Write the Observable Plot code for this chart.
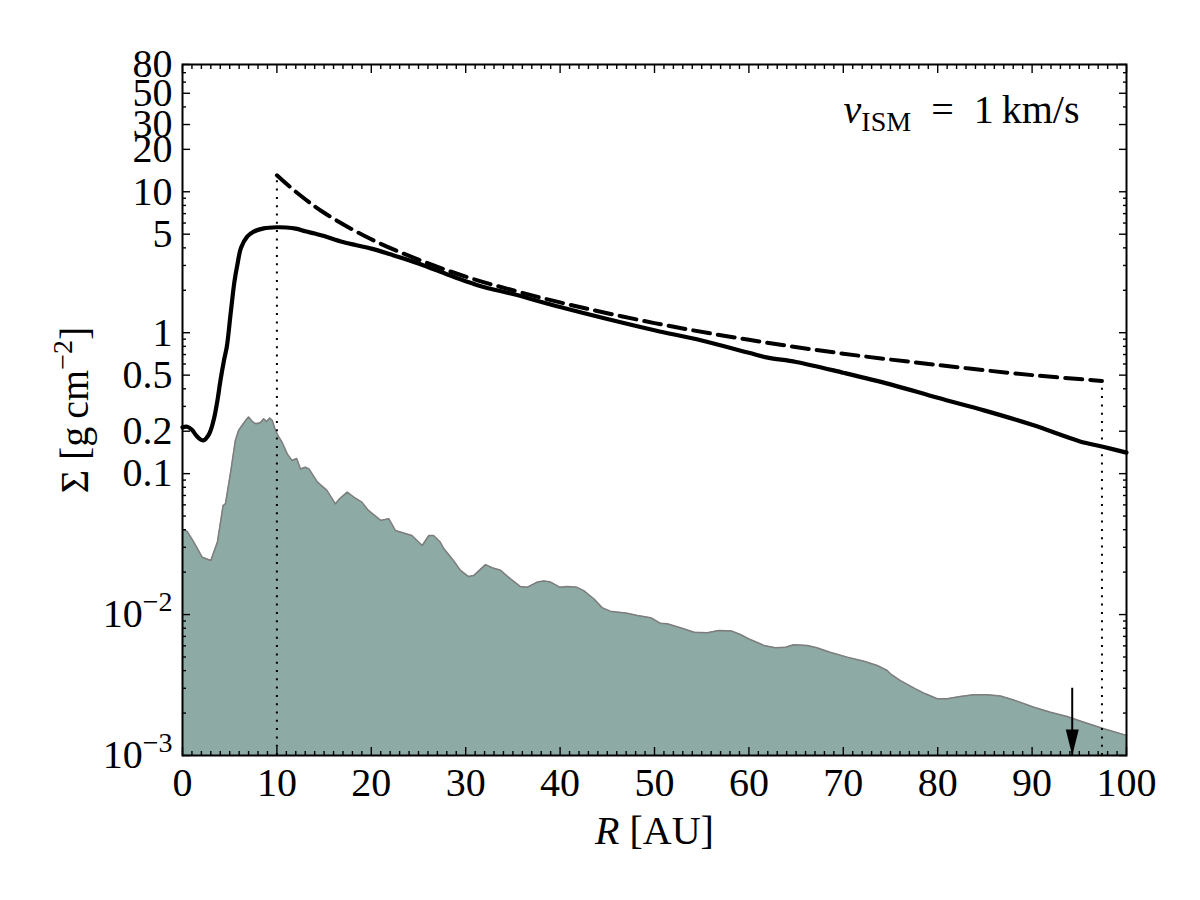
<!DOCTYPE html>
<html>
<head>
<meta charset="utf-8">
<script src="https://cdn.jsdelivr.net/npm/d3@7"></script>
<script src="https://cdn.jsdelivr.net/npm/@observablehq/plot@0.6"></script>
<style>
  body { margin: 0; background: #fff; }
  #chart svg { display: block; }
</style>
</head>
<body>
<div id="chart"></div>
<script>
// Gas surface density profile (solid), initial power-law disc (dashed)
// and dust surface density (shaded), radius in AU.
const gasR = [0, 0.5, 1, 1.5, 2.2, 2.8, 3.3, 3.7, 4.0, 4.4, 4.7, 5.1, 5.5, 5.8, 6.2, 6.85, 7.5, 8.6, 10, 11, 12, 13, 14, 15, 17, 20, 22, 25, 28, 30, 32, 35, 40, 45, 50, 55, 60, 62, 65, 70, 75, 80, 85, 90, 95, 97.5, 100];
const gasSigma = [0.213, 0.215, 0.205, 0.185, 0.172, 0.19, 0.24, 0.33, 0.45, 0.64, 0.8, 1.37, 2.3, 3.0, 4.0, 4.8, 5.2, 5.5, 5.6, 5.58, 5.48, 5.25, 5.05, 4.85, 4.4, 3.95, 3.6, 3.1, 2.6, 2.32, 2.1, 1.88, 1.52, 1.25, 1.04, 0.88, 0.72, 0.665, 0.62, 0.52, 0.43, 0.345, 0.28, 0.222, 0.17, 0.155, 0.141];

const initR = [10, 12, 15, 20, 25, 30, 35, 40, 50, 60, 70, 80, 90, 97.4];
const initSigma = [13.1, 10.0, 7.1, 4.6, 3.3, 2.5, 2.0, 1.64, 1.17, 0.89, 0.71, 0.59, 0.50, 0.455];

const dustR = [0, 0.5, 1.2, 2.1, 3.0, 3.7, 4.3, 4.55, 5.1, 5.6, 5.95, 6.7, 7.0, 7.4, 7.75, 8.25, 8.6, 8.9, 9.25, 9.5, 9.85, 10.2, 10.55, 11.1, 11.6, 12.1, 12.5, 13.0, 13.4, 14.3, 15.3, 16.2, 16.65, 17.45, 18.15, 19.0, 19.7, 21.0, 21.85, 22.55, 24.3, 25.4, 26.1, 26.6, 27.3, 27.7, 28.7, 29.45, 30.3, 30.85, 32.1, 32.8, 33.7, 34.75, 35.8, 36.5, 37.6, 38.3, 39.0, 40.0, 40.75, 41.8, 42.5, 43.6, 44.45, 45.3, 47.1, 48.2, 49.6, 50.6, 51.35, 52.75, 54.2, 55.6, 56.8, 58.2, 59.1, 60.2, 61.6, 62.8, 63.9, 64.75, 66.2, 67.2, 68.6, 70.4, 72.2, 73.6, 74.65, 75.0, 76.05, 77.65, 78.7, 79.95, 81.0, 82.4, 83.8, 85.25, 86.65, 88.05, 90.2, 91.95, 93.7, 95.5, 97.6, 100];
const dustSigma = [0.0402, 0.0389, 0.0327, 0.0255, 0.0242, 0.0327, 0.0594, 0.0611, 0.1026, 0.172, 0.203, 0.239, 0.252, 0.234, 0.226, 0.230, 0.245, 0.234, 0.248, 0.239, 0.203, 0.182, 0.167, 0.138, 0.124, 0.128, 0.108, 0.111, 0.108, 0.0870, 0.0760, 0.0611, 0.0663, 0.0739, 0.0681, 0.0628, 0.0548, 0.0466, 0.0479, 0.0395, 0.0364, 0.0309, 0.0364, 0.0364, 0.0327, 0.0293, 0.0242, 0.0206, 0.0186, 0.0189, 0.0226, 0.0215, 0.0206, 0.0179, 0.0158, 0.0156, 0.0170, 0.0173, 0.0170, 0.0156, 0.0158, 0.0156, 0.0148, 0.0129, 0.0112, 0.01057, 0.01023, 0.00986, 0.00949, 0.00869, 0.00861, 0.00806, 0.0075, 0.00743, 0.00771, 0.00763, 0.00722, 0.00662, 0.00604, 0.00581, 0.00587, 0.00611, 0.00604, 0.00581, 0.00541, 0.00499, 0.00467, 0.00435, 0.00401, 0.0038, 0.0034, 0.00297, 0.00274, 0.00253, 0.00253, 0.00262, 0.0027, 0.0027, 0.00264, 0.00248, 0.0022, 0.00203, 0.00189, 0.00172, 0.00155, 0.00139];

// Dotted guides at the inner and outer edge of the initial disc
const edgeR = [10, 97.4];
const edgeSigma = [13.1, 0.455];

// Downward arrow marking a radius
const arrowR = [94.25];
const arrowTail = [3.0e-3];

const xTicks = [0, 10, 20, 30, 40, 50, 60, 70, 80, 90, 100];
const yTicks = [1e-3, 1e-2, 0.1, 0.2, 0.5, 1, 5, 10, 20, 30, 50, 80];

const annotation = "*v*_{ISM}\u2002=\u20021\u2009km/s";
const xLabel = "*R* [AU]";
const yLabel = "Σ [g\u2009cm^{−2}]";

const yMin = 1e-3, yMax = 80;

const gas = gasR.map((r, i) => ({r, s: gasSigma[i]}));
const init = initR.map((r, i) => ({r, s: initSigma[i]}));
const dust = dustR.map((r, i) => ({r, s: dustSigma[i]}));
const edges = edgeR.map((r, i) => ({r, top: edgeSigma[i]}));
const arrows = arrowR.map((r, i) => ({r, tail: arrowTail[i]}));

const xMinor = d3.range(0, 101, 1).filter(d => !xTicks.includes(d));
const yMinor = d3.scaleLog().domain([yMin, yMax]).ticks()
  .filter(d => !yTicks.some(t => Math.abs(t - d) / t < 1e-6));

const yFormat = d => d < 0.1 ? `10^{−${Math.round(-Math.log10(d))}}` : String(d);

// Narrow filled arrow head, tip at the anchor point
const arrowHead = {
  draw(ctx) {
    ctx.moveTo(0, 0);
    ctx.lineTo(-6.5, -26);
    ctx.lineTo(6.5, -26);
    ctx.closePath();
  }
};

const tickStyle = {stroke: "black", strokeWidth: 1.4, fill: "none", label: null};

const chart = Plot.plot({
  width: 1200,
  height: 900,
  marginLeft: 182,
  marginRight: 74,
  marginTop: 64,
  marginBottom: 145,
  style: {fontFamily: "'Liberation Serif', serif", fontSize: "40px", background: "white", color: "black"},
  x: {domain: [0, 100]},
  y: {type: "log", domain: [yMin, yMax]},
  marks: [
    Plot.areaY(dust, {x: "r", y1: yMin, y2: "s", fill: "#8eaaa5"}),
    Plot.line(dust, {x: "r", y: "s", stroke: "#7d7d7d", strokeWidth: 1.5}),
    Plot.ruleX(edges, {x: "r", y1: yMin, y2: "top", stroke: "black", strokeWidth: 2, strokeDasharray: "2,6.3"}),
    Plot.line(init, {x: "r", y: "s", curve: "catmull-rom", stroke: "black", strokeWidth: 4, strokeDasharray: "17,8"}),
    Plot.line(gas, {x: "r", y: "s", curve: "catmull-rom", stroke: "black", strokeWidth: 4.2}),
    Plot.ruleX(arrows, {x: "r", y1: "tail", y2: yMin, stroke: "black", strokeWidth: 2}),
    Plot.dot(arrows, {x: "r", y: () => yMin, symbol: arrowHead, r: 6, fill: "black", stroke: "none"}),
    Plot.frame({stroke: "black", strokeWidth: 2}),
    // inward ticks on all four sides
    Plot.axisX(xTicks, {anchor: "bottom", tickSize: -8, ...tickStyle}),
    Plot.axisX(xMinor, {anchor: "bottom", tickSize: -4, ...tickStyle}),
    Plot.axisX(xTicks, {anchor: "top", tickSize: -8, ...tickStyle}),
    Plot.axisX(xMinor, {anchor: "top", tickSize: -4, ...tickStyle}),
    Plot.axisY(yTicks, {anchor: "left", tickSize: -8, ...tickStyle}),
    Plot.axisY(yMinor, {anchor: "left", tickSize: -4, ...tickStyle}),
    Plot.axisY(yTicks, {anchor: "right", tickSize: -8, ...tickStyle}),
    Plot.axisY(yMinor, {anchor: "right", tickSize: -4, ...tickStyle}),
    // tick labels
    Plot.axisX(xTicks, {anchor: "bottom", tickSize: 0, tickPadding: 12, fontSize: 40, label: null}),
    Plot.text(yTicks, {y: d => d, text: yFormat, frameAnchor: "left", textAnchor: "end", dx: -10, fontSize: 40}),
    // axis titles and annotation
    Plot.text([xLabel], {frameAnchor: "bottom", textAnchor: "middle", dy: 88, fontSize: 40}),
    Plot.text([yLabel], {frameAnchor: "left", textAnchor: "middle", dx: -107, rotate: -90, fontSize: 40}),
    Plot.text([annotation], {frameAnchor: "top-right", textAnchor: "end", dx: -47, dy: 30, fontSize: 40})
  ]
});

// Turn the small markup (*italic*, ^{sup}, _{sub}) into SVG tspans
const svgNS = "http://www.w3.org/2000/svg";
function richify(el) {
  const src = el.textContent;
  if (!/[\^_*]/.test(src)) return;
  while (el.firstChild) el.removeChild(el.firstChild);
  let shift = 0;
  for (const m of src.matchAll(/\^\{([^}]*)\}|_\{([^}]*)\}|\*([^*]*)\*|([^^_*]+)/g)) {
    const ts = document.createElementNS(svgNS, "tspan");
    let target = 0, scale = 1;
    if (m[1] != null) { ts.textContent = m[1]; target = -0.42; scale = 0.7; }
    else if (m[2] != null) { ts.textContent = m[2]; target = 0.2; scale = 0.7; }
    else if (m[3] != null) { ts.textContent = m[3]; ts.setAttribute("font-style", "italic"); }
    else ts.textContent = m[4];
    if (scale !== 1) ts.setAttribute("font-size", `${scale * 100}%`);
    const delta = target - shift;
    if (delta) ts.setAttribute("dy", `${(delta / scale).toFixed(3)}em`);
    shift = target;
    el.appendChild(ts);
  }
}
chart.querySelectorAll("text").forEach(t => { if (!t.querySelector("tspan")) richify(t); });

document.getElementById("chart").appendChild(chart);
</script>
</body>
</html>
